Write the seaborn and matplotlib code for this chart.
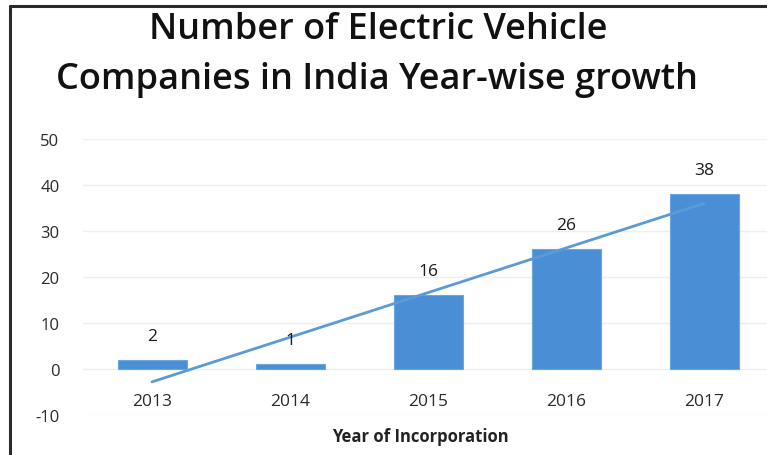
import numpy as np
import pandas as pd
import matplotlib
matplotlib.use("Agg")
import matplotlib.pyplot as plt
import seaborn as sns
from matplotlib.lines import Line2D

years = ["2013", "2014", "2015", "2016", "2017"]
companies = [2, 1, 16, 26, 38]
y_ticks = [-10, 0, 10, 20, 30, 40, 50]

sns.set_theme(style="white")
plt.rcParams['font.family'] = ['Open Sans', 'DejaVu Sans']

df = pd.DataFrame({"Year": years, "Companies": companies})

W, H = 767, 456
fig = plt.figure(figsize=(W / 100, H / 100), dpi=100)
ax = fig.add_axes([83 / W, 1 - 416 / H, (773 - 83) / W, (416 - 140) / H])

sns.barplot(data=df, x="Year", y="Companies", ax=ax, color="#4a8ed6",
            saturation=1, width=0.5, edgecolor="#6aa6e0", linewidth=0.8, zorder=2)

# linear trendline (Excel style)
xs = np.arange(len(years))
coef = np.polyfit(xs, companies, 1)
ax.plot(xs, np.polyval(coef, xs), color="#5b9bd5", linewidth=2.0, zorder=3)

for i, v in enumerate(companies):
    ax.text(i, v + 5.2, str(v), ha="center", va="center", fontsize=12.5, color="#1a1a1a", zorder=4)

ax.set_ylim(-10, 50)
ax.set_xlim(-0.5, len(years) - 0.5)
ax.set_yticks(y_ticks)
ax.set_yticklabels([str(t) for t in y_ticks], fontsize=12, color="#2a2a2a")
ax.spines["bottom"].set_position(("data", 0))
ax.tick_params(axis="x", labelsize=12.5, colors="#2a2a2a", pad=17, length=0)
ax.tick_params(axis="y", pad=17, length=0)
ax.grid(axis="y", color="#eeeeee", linewidth=1, zorder=0)
ax.set_axisbelow(True)
for s in ax.spines.values():
    s.set_visible(False)
ax.set_ylabel("")
ax.set_xlabel("")
ax.text((420 - 83) / (773 - 83), -(437 - 416) / (416 - 140), "Year of Incorporation",
        transform=ax.transAxes, ha="center", va="center", fontsize=12,
        fontweight="bold", color="#222222")

fig.text(378 / W, 1 - 30 / H, "Number of Electric Vehicle", ha="center", va="center",
         fontsize=26, fontweight="semibold", color="#111111")
fig.text(377 / W, 1 - 80 / H, "Companies in India Year-wise growth", ha="center", va="center",
         fontsize=26, fontweight="semibold", color="#111111")

# outer frame lines (top and left)
fig.add_artist(Line2D([10 / W, 1], [1 - 7 / H, 1 - 7 / H], transform=fig.transFigure,
                      color="#2a2a2a", linewidth=2.2))
fig.add_artist(Line2D([10 / W, 10 / W], [0, 1 - 7 / H], transform=fig.transFigure,
                      color="#2a2a2a", linewidth=2.2))

fig.savefig("out.png", dpi=100)
